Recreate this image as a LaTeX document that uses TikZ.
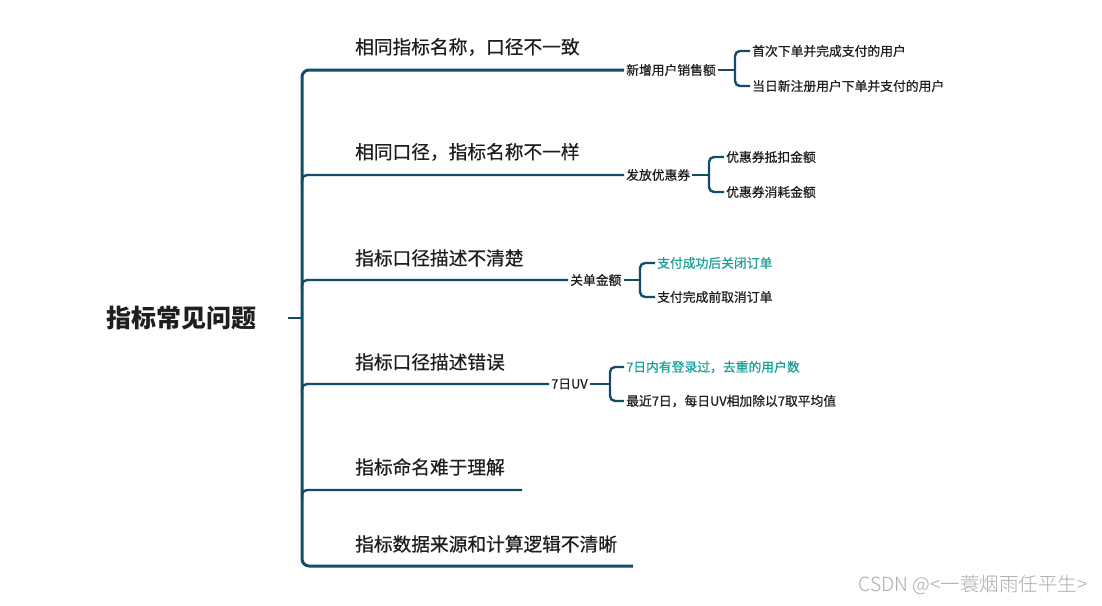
\documentclass[tikz,border=0pt]{standalone}
\usepackage{fontspec}
\setmainfont{Noto Sans CJK SC}
\newfontfamily\medfont[FakeBold=0.6]{Noto Sans CJK SC}
\newfontfamily\lightfont{Noto Sans CJK SC Light}
\begin{document}
\begin{tikzpicture}[x=1pt,y=-1pt,
  conn/.style={draw=lineblue,line width=2.4pt},
  trunk/.style={draw=lineblue,line width=3pt,rounded corners=7pt},
  brace/.style={draw=lineblue,line width=2.4pt,rounded corners=5pt},
  rootlbl/.style={font=\fontsize{25}{25}\selectfont\bfseries,text=txt,inner sep=0pt},
  lvlone/.style={font=\medfont\fontsize{18.7}{19}\selectfont,text=txt,anchor=west,inner sep=0pt},
  lvltwo/.style={font=\medfont\fontsize{12.8}{13}\selectfont,text=txt,anchor=west,inner sep=2pt},
  lvlthree/.style={font=\medfont\fontsize{12.8}{13}\selectfont,text=txt,anchor=west,inner sep=2pt},
  hl/.style={text=tealtxt}]
\definecolor{lineblue}{RGB}{18,76,104}
\definecolor{txt}{RGB}{30,30,30}
\definecolor{tealtxt}{RGB}{22,160,150}
\path[use as bounding box,fill=white] (0,0) rectangle (1102,605);

% root
\node[rootlbl] (root) at (181,318) {指标常见问题};
\coordinate (rootstub) at (288,318);
\coordinate (tj) at (302,318);

% level 1 labels
\node[lvlone] (a1) at (355,47) {相同指标名称，口径不一致};
\node[lvlone] (a2) at (355,152) {相同口径，指标名称不一样};
\node[lvlone] (a3) at (355,258) {指标口径描述不清楚};
\node[lvlone] (a4) at (355,362) {指标口径描述错误};
\node[lvlone] (a5) at (355,467) {指标命名难于理解};
\node[lvlone] (a6) at (355,544) {指标数据来源和计算逻辑不清晰};

% level 2 labels
\node[lvltwo] (b1) at (624,70) {新增用户销售额};
\node[lvltwo] (b2) at (624,175) {发放优惠券};
\node[lvltwo] (b3) at (568,280) {关单金额};
\node[lvltwo] (b4) at (549,384) {7日UV};
\coordinate (e5) at (522,490);
\coordinate (e6) at (633,566);

% level 3 labels
\node[lvlthree] (c11) at (750,51) {首次下单并完成支付的用户};
\node[lvlthree] (c12) at (750,86) {当日新注册用户下单并支付的用户};
\node[lvlthree] (c21) at (724,157) {优惠券抵扣金额};
\node[lvlthree] (c22) at (724,192) {优惠券消耗金额};
\node[lvlthree,hl] (c31) at (655,263) {支付成功后关闭订单};
\node[lvlthree] (c32) at (655,297) {支付完成前取消订单};
\node[lvlthree,hl] (c41) at (624,367) {7日内有登录过，去重的用户数};
\node[lvlthree] (c42) at (624,401) {最近7日，每日UV相加除以7取平均值};

% trunk
\draw[trunk] (b1.west) -- (302,70) -- (302,566) -- (e6);
\draw[conn] (rootstub) -- (tj);
\draw[conn,rounded corners=5pt] (b2.west) -- (302,175) -- (302,185);
\draw[conn,rounded corners=5pt] (b3.west) -- (302,280) -- (302,290);
\draw[conn,rounded corners=5pt] (b4.west) -- (302,384) -- (302,394);
\draw[conn,rounded corners=5pt] (e5) -- (302,490) -- (302,500);

% braces
\draw[conn] (b1.east) -- (735,70);
\draw[brace] (c11.west) -- (735,51) -- (735,86) -- (c12.west);
\draw[conn] (b2.east) -- (709,175);
\draw[brace] (c21.west) -- (709,157) -- (709,192) -- (c22.west);
\draw[conn] (b3.east) -- (640,280);
\draw[brace] (c31.west) -- (640,263) -- (640,297) -- (c32.west);
\draw[conn] (b4.east) -- (610,384);
\draw[brace] (c41.west) -- (610,367) -- (610,401) -- (c42.west);

% watermark
\node[font=\lightfont\fontsize{19.5}{20}\selectfont,text=gray!65,anchor=east,inner sep=0pt] (wm) at (1088,585) {CSDN @<一蓑烟雨任平生>};
\end{tikzpicture}
\end{document}
